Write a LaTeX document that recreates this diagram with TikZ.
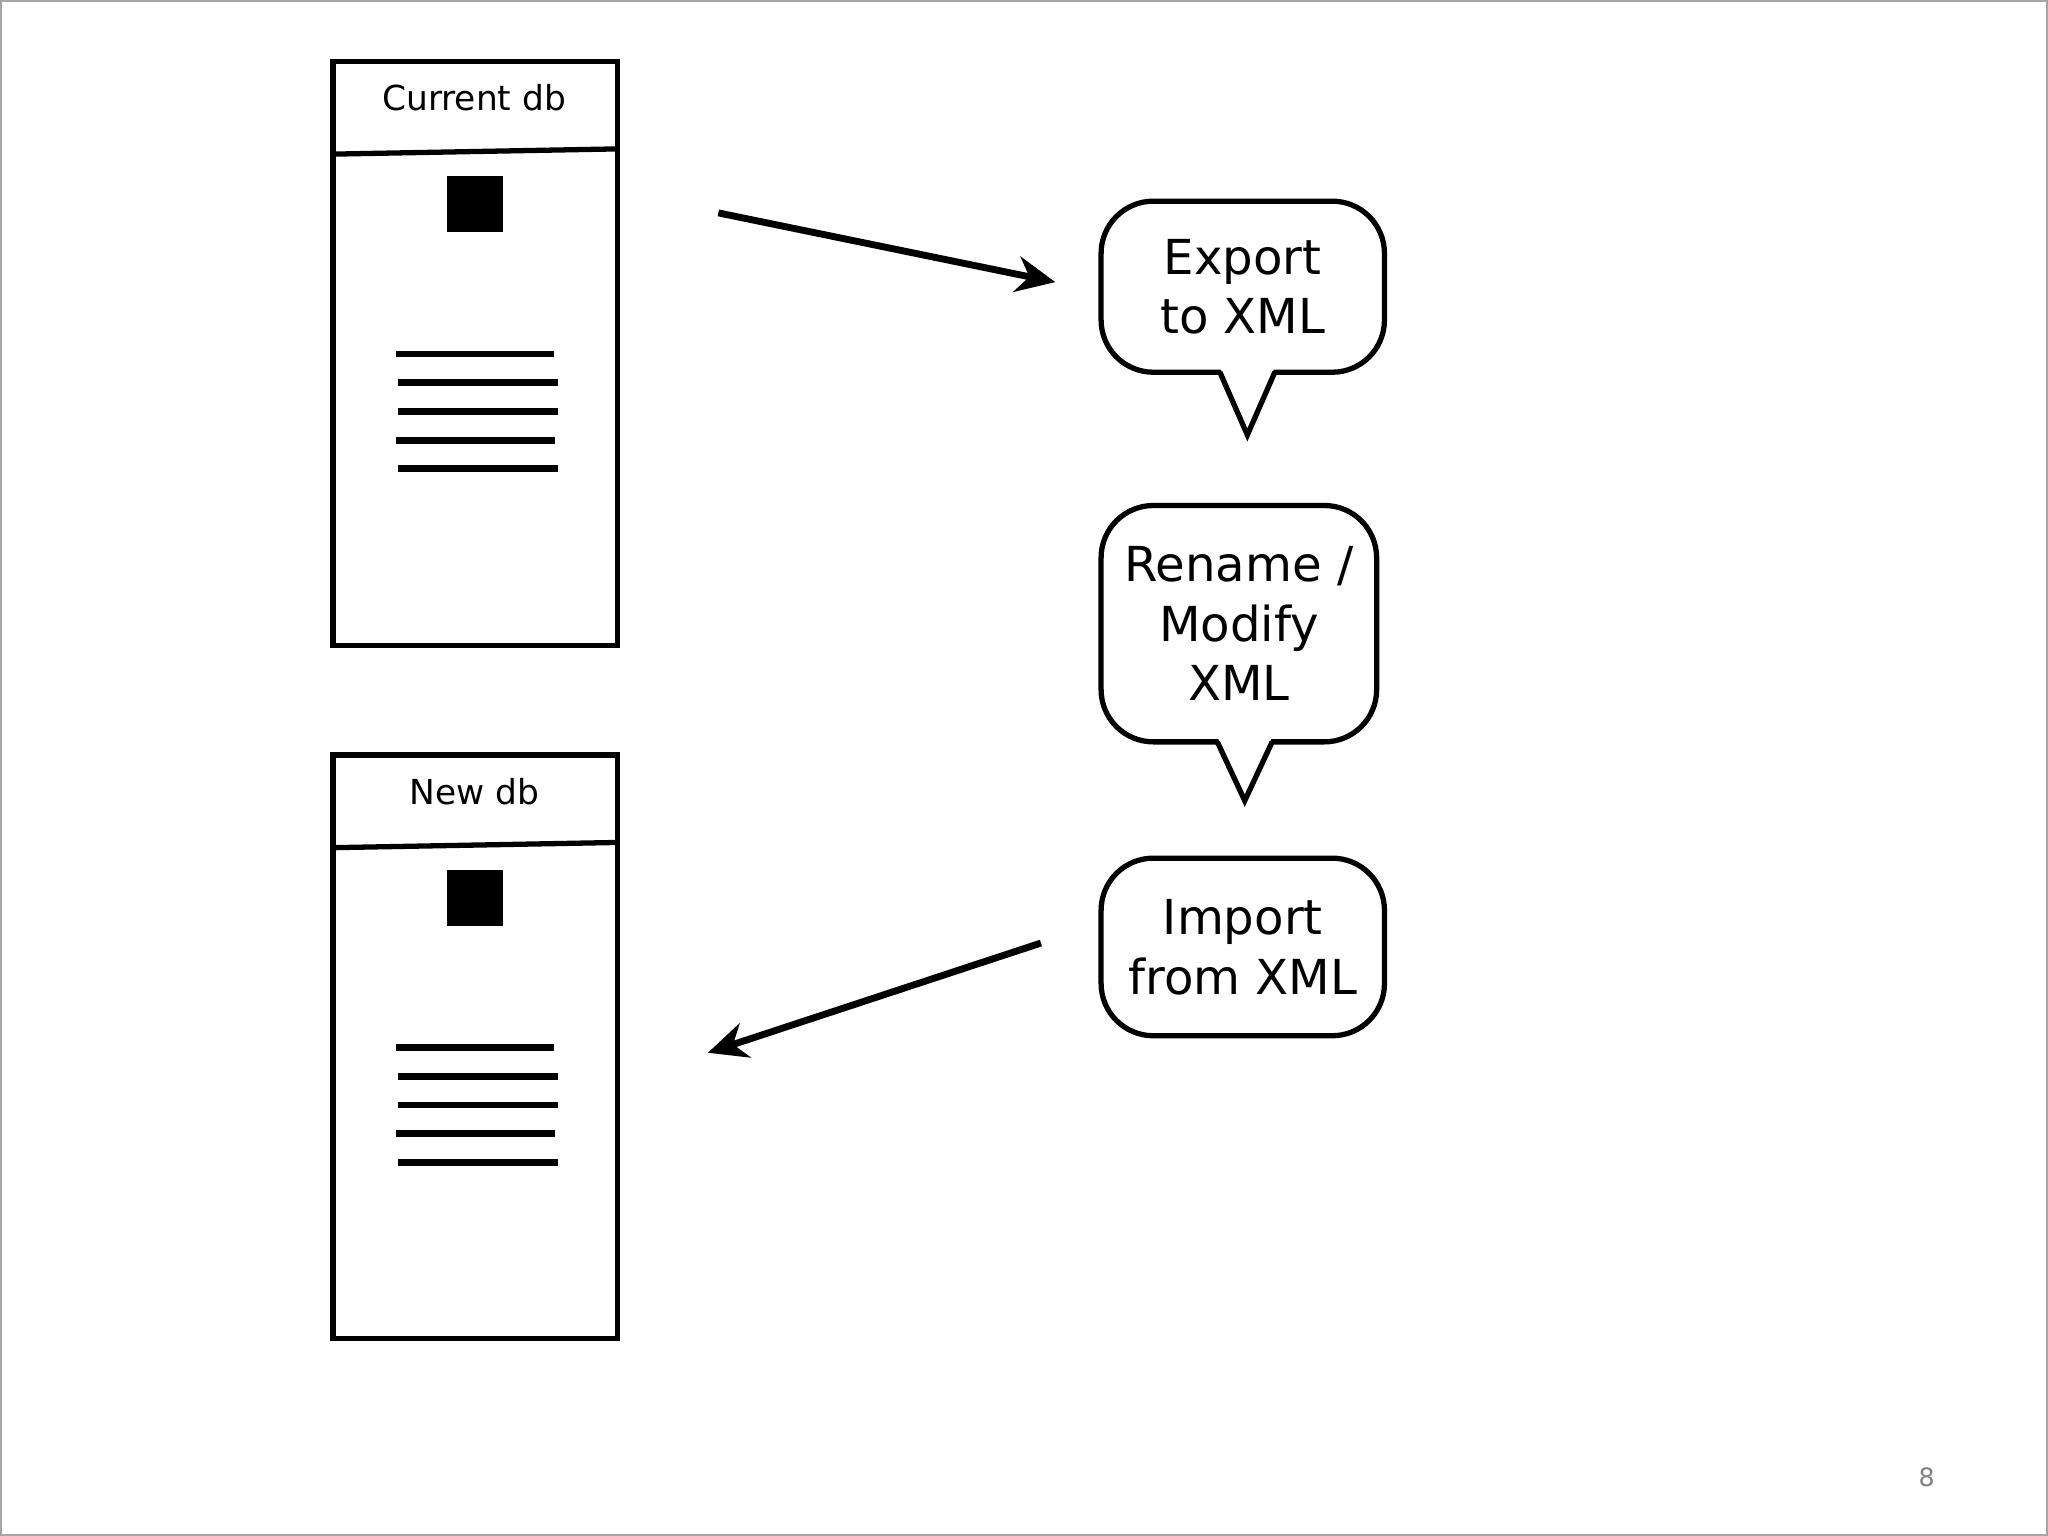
\documentclass[tikz,border=0pt]{standalone}
\usepackage{fontspec}
\setmainfont{DejaVu Sans}
\usetikzlibrary{arrows.meta}
\begin{document}
\begin{tikzpicture}[x=0.02cm,y=-0.02cm,
  box/.style={draw,line width=2.3pt,minimum width=4.36cm,minimum height=8.94cm,inner sep=0},
  bar/.style={line width=3pt},
  bub/.style={draw,line width=2.3pt,rounded corners=0.8cm,fill=white,inner sep=0,align=center,
     font=\fontsize{21}{26}\selectfont},
  arr/.style={line width=3pt,-{Stealth[length=0.6cm,width=0.55cm]}},
  lbl/.style={font=\fontsize{15}{18}\selectfont}]
\useasboundingbox (0,0) rectangle (1568,1176);
\draw[gray!70,line width=1pt] (0.5,0.5) rectangle (1567.5,1175.5);
\foreach \n/\dy/\t in {cur/0/Current db,new/531/New db}{
  \node[box] (\n) at (364,{270.5+\dy}) {};
  \draw[line width=2.3pt] (255,{118+\dy}) -- (473,{114+\dy});
  \node[lbl] (\n t) at (363,{75+\dy}) {\t};
  \fill (342,{135+\dy}) rectangle (385,{178+\dy});
  \draw[bar] (303,{271+\dy}) -- (424,{271+\dy});
  \draw[bar] (305,{293+\dy}) -- (427,{293+\dy});
  \draw[bar] (305,{315+\dy}) -- (427,{315+\dy});
  \draw[bar] (303,{337+\dy}) -- (425,{337+\dy});
  \draw[bar] (305,{359+\dy}) -- (427,{359+\dy});
}
\node[bub,minimum width=4.34cm,minimum height=2.62cm] (b1) at (951.5,219.5) {Export\\to XML};
\fill[white] (934,281) -- (955,333) -- (976,281) -- cycle;
\draw[line width=2.3pt,line join=miter] (934,285) -- (955,333) -- (976,285);
\node[bub,minimum width=4.22cm,minimum height=3.62cm] (b2) at (948.5,477.5) {Rename /\\Modify\\XML};
\fill[white] (932,564) -- (953,613) -- (974,564) -- cycle;
\draw[line width=2.3pt,line join=miter] (932,568) -- (953,613) -- (974,568);
\node[bub,minimum width=4.34cm,minimum height=2.72cm] (b3) at (951.5,725) {Import\\from XML};
\coordinate (a1s) at (550,163); \coordinate (a1e) at (808,216);
\coordinate (a2s) at (797,722); \coordinate (a2e) at (542,806);
\draw[arr] (a1s) -- (a1e);
\draw[arr] (a2s) -- (a2e);
\node[text=gray,font=\fontsize{11}{13}\selectfont] (pg) at (1475,1131) {8};
\end{tikzpicture}
\end{document}
